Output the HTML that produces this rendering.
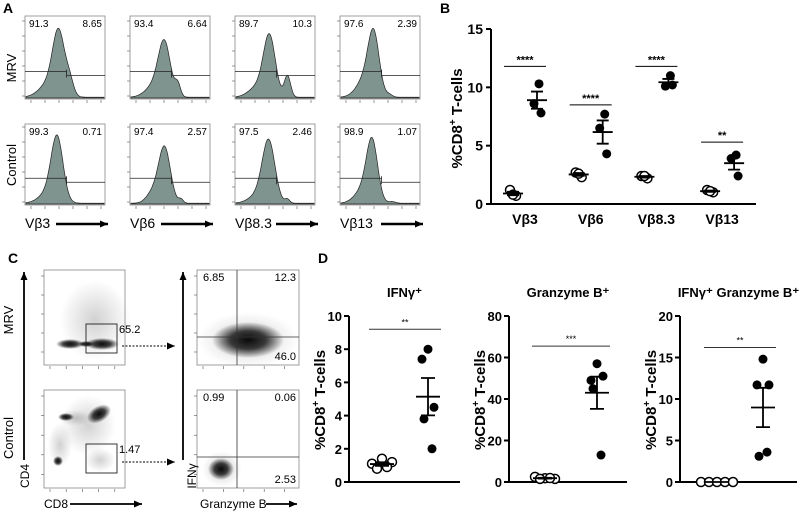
<!DOCTYPE html>
<html><head><meta charset="utf-8"><style>
html,body{margin:0;padding:0;background:#fff}
svg{display:block;font-family:"Liberation Sans",sans-serif}
</style></head><body>
<svg id="fig" width="800" height="512" viewBox="0 0 800 512" xmlns="http://www.w3.org/2000/svg">
<defs>
<marker id="ah" markerUnits="userSpaceOnUse" markerWidth="8" markerHeight="7" refX="8" refY="3.5" orient="auto"><path d="M0,0 L8,3.5 L0,7 z" fill="#000"/></marker>
<radialGradient id="dens"><stop offset="0" stop-color="#000" stop-opacity="0.95"/><stop offset="0.5" stop-color="#000" stop-opacity="0.75"/><stop offset="1" stop-color="#000" stop-opacity="0"/></radialGradient>
<radialGradient id="dens2"><stop offset="0" stop-color="#000" stop-opacity="0.18"/><stop offset="1" stop-color="#000" stop-opacity="0"/></radialGradient>
</defs>
<g id="root"></g>
</svg>
<script>
// ---------- Panel B data ----------
const bCats = ["Vβ3","Vβ6","Vβ8.3","Vβ13"];
const bOpen = [[1.2,0.7,0.8],[2.7,2.3,2.6],[2.4,2.2,2.4],[1.2,1.0,1.1]];
const bFilled = [[10.3,8.6,7.8],[7.7,6.5,4.3],[11.0,10.1,10.2],[4.2,3.9,2.4]];
const bSig = [11.8,8.5,11.8,5.3];
const bSigLabels = ["****","****","****","**"];
const bTicks = [0,5,10,15];
// ---------- Panel D data ----------
const dTitles = ["IFNγ⁺","Granzyme B⁺","IFNγ⁺ Granzyme  B⁺"];
const dMax = [10,80,20];
const dTicks = [[0,2,4,6,8,10],[0,20,40,60,80],[0,5,10,15,20]];
const dOpen = [[1.1,1.4,1.2,0.8,0.9],[2.5,1.8,1.5,1.5,1.9],[0,0,0,0,0]];
const dFilled = [[8.0,7.4,4.5,3.8,2.0],[57,49,51,45,13],[14.8,11.7,11.7,3.1,3.6]];
const dSig = [9.2,65.5,16.2];
const dSigLabels = ["**","***","**"];
// ---------- Panel A labels ----------
const aLeft = [["91.3","93.4","89.7","97.6"],["99.3","97.4","97.5","98.9"]];
const aRight = [["8.65","6.64","10.3","2.39"],["0.71","2.57","2.46","1.07"]];
const aAxis = ["Vβ3","Vβ6","Vβ8.3","Vβ13"];

const NS="http://www.w3.org/2000/svg";
const root=document.getElementById('root');
function mk(tag,attrs,parent,text){const e=document.createElementNS(NS,tag);for(const k in attrs)e.setAttribute(k,attrs[k]);if(text!==undefined)e.textContent=text;(parent||root).appendChild(e);return e;}
function txt(x,y,s,size,opts,parent){const o=Object.assign({x:x,y:y,'font-size':size,fill:'#000'},opts||{});return mk('text',o,parent,s);}

[["A",3,13],["B",440,13],["C",8,263],["D",318,263]].forEach(p=>{
  const t=txt(p[1],p[2],p[0],14,{'font-weight':'bold'});
  
  
});

// ================= Panel A =================
const aBoxX=[25,130,235,340], aBoxW=80, aRows=[[16,99],[124,205]];
const comps=[
 [[[0.42,0.075,0.72],[0.56,0.05,0.18],[0.32,0.13,0.2]],[[0.43,0.075,0.6],[0.6,0.035,0.15],[0.33,0.12,0.18]],[[0.43,0.075,0.72],[0.66,0.04,0.27],[0.3,0.12,0.15]],[[0.42,0.07,0.7],[0.32,0.11,0.25],[0.62,0.04,0.03]]],
 [[[0.40,0.075,0.78],[0.3,0.12,0.15]],[[0.43,0.075,0.72],[0.28,0.08,0.14],[0.64,0.03,0.05]],[[0.42,0.08,0.76],[0.3,0.12,0.12],[0.66,0.03,0.05]],[[0.40,0.07,0.72],[0.3,0.11,0.2],[0.66,0.04,0.02]]]
];
const gateX=[0.52,0.52,0.52,0.52];
const arrowStart=[31,31,41,41];
for(let r=0;r<2;r++){
  const [y0,y1]=aRows[r];
  for(let c=0;c<4;c++){
    const x0=aBoxX[c], g=mk('g',{});
    
    
    mk('rect',{x:x0,y:y0,width:aBoxW,height:y1-y0,fill:'none',stroke:'#888','stroke-width':0.8},g);
    let d='M'+(x0+1)+','+(y1-1);
    for(let i=0;i<=100;i++){
      const f=i/100;let h=0.01;
      comps[r][c].forEach(k=>{h+=k[2]*Math.exp(-0.5*Math.pow((f-k[0])/k[1],2));});
      d+=' L'+(x0+1+f*(aBoxW-2)).toFixed(1)+','+(y1-1-h*(y1-y0-4)).toFixed(1);
    }
    d+=' L'+(x0+aBoxW-1)+','+(y1-1)+' Z';
    mk('path',{d:d,fill:'#7f938f',stroke:'#222','stroke-width':0.7},g);
    const gx=x0+gateX[c]*aBoxW, ly=y0+(y1-y0)*0.67;
    mk('path',{d:`M${x0},${ly} H${gx} M${gx},${ly-2} V${ly+6} M${gx},${ly+4} H${x0+aBoxW}`,stroke:'#222','stroke-width':0.8,fill:'none'},g);
    txt(x0+4,y0+11,aLeft[r][c],10,{},g);
    txt(x0+aBoxW-3,y0+11,aRight[r][c],10,{'text-anchor':'end'},g);
    for(let t=0;t<6;t++){mk('line',{x1:x0+6+t*14,x2:x0+6+t*14,y1:y1+1,y2:y1+4,stroke:'#555','stroke-width':0.6},g);}
    for(let t=0;t<6;t++){mk('line',{x1:x0-3,x2:x0,y1:y1-3-t*15,y2:y1-3-t*15,stroke:'#555','stroke-width':0.6},g);}
    if(r===1){
      txt(x0,228,aAxis[c],14,{},g);
      mk('line',{x1:x0+arrowStart[c],x2:x0+aBoxW+3,y1:224,y2:224,stroke:'#000','stroke-width':2.5,'marker-end':'url(#ah)'},g);
    }
  }
}
let t1=txt(0,0,'MRV',13,{transform:'translate(16,68) rotate(-90)','text-anchor':'middle'});
let t2=txt(0,0,'Control',13,{transform:'translate(16,165) rotate(-90)','text-anchor':'middle'});

// ================= Panel B =================
(function(){
  const X0=491,X1=756,Y0=204,Y1=29,max=15;
  const y=v=>Y0-(v/max)*(Y0-Y1);
  const centers=bCats.map((_,i)=>525+i*65.7);
  const g=mk('g',{});
  mk('line',{x1:X0,x2:X0,y1:Y1,y2:Y0,stroke:'#000','stroke-width':2},g);
  mk('line',{x1:X0,x2:X1,y1:Y0,y2:Y0,stroke:'#000','stroke-width':2},g);
  bTicks.forEach(v=>{mk('line',{x1:X0-5,x2:X0,y1:y(v),y2:y(v),stroke:'#000','stroke-width':2},g);
    const t=txt(X0-8,y(v)+5,String(v),14,{'text-anchor':'end','font-weight':'bold'},g);});
  const yt=txt(0,0,'',15,{transform:`translate(462,${(Y0+Y1)/2+2}) rotate(-90)`,'text-anchor':'middle','font-weight':'bold'},g);
  
  yt.innerHTML='%CD8<tspan dy="-6" font-size="10">+</tspan><tspan dy="6"> T-cells</tspan>';
  const ox=[-3,3,0], fx=[2,-3,4];
  bCats.forEach((c,i)=>{
    const cx=centers[i];
    const lab=txt(cx,224,c,14,{'text-anchor':'middle','font-weight':'bold'},g);
    const o=bOpen[i], f=bFilled[i];
    const mo=o.reduce((a,b)=>a+b)/o.length, mf=f.reduce((a,b)=>a+b)/f.length;
    const sd=a=>{const m=a.reduce((p,q)=>p+q)/a.length;return Math.sqrt(a.reduce((p,q)=>p+(q-m)*(q-m),0)/(a.length-1))/Math.sqrt(a.length);};
    const xo=cx-12, xf=cx+12;
    o.forEach((v,k)=>{const p=mk('circle',{cx:xo+ox[k],cy:y(v),r:4.5,fill:'#fff',stroke:'#000','stroke-width':1.5},g);});
    f.forEach((v,k)=>{const p=mk('circle',{cx:xf+fx[k],cy:y(v),r:4.5,fill:'#000'},g);});
    [[xo,mo,sd(o)],[xf,mf,sd(f)]].forEach(e=>{
      mk('path',{d:`M${e[0]-10},${y(e[1])} H${e[0]+10} M${e[0]},${y(e[1]+e[2])} V${y(e[1]-e[2])} M${e[0]-6},${y(e[1]+e[2])} H${e[0]+6} M${e[0]-6},${y(e[1]-e[2])} H${e[0]+6}`,stroke:'#000','stroke-width':1.8,fill:'none'},g);
    });
    const sl=mk('line',{x1:cx-21,x2:cx+21,y1:y(bSig[i]),y2:y(bSig[i]),stroke:'#000','stroke-width':1},g);
    txt(cx,y(bSig[i])-3,bSigLabels[i],11,{'text-anchor':'middle','font-weight':'bold'},g);
  });
})();

// ================= Panel C =================
(function(){
  const boxes=[[44,270,81,95,'cd4-cd8-mrv'],[197,270,102,95,'ifng-gzmb-mrv'],[44,390,81,98,'cd4-cd8-control'],[197,390,102,98,'ifng-gzmb-control']];
  const bl=(cx,cy,rx,ry,id,rot)=>mk('ellipse',{cx:cx,cy:cy,rx:rx,ry:ry,fill:'url(#'+id+')',transform:rot?`rotate(${rot} ${cx} ${cy})`:''});
  bl(95,320,35,40,'dens2');
  bl(70,344,14,5,'dens');bl(102,344,17,6,'dens');bl(86,344,8,3,'dens');
  bl(248,340,50,28,'dens2');bl(248,340,36,18,'dens');
  bl(75,418,16,8,'dens2');bl(88,425,28,30,'dens2');bl(99,414,13,8,'dens',-30);bl(66,417,8,4,'dens');bl(58,461,5,5,'dens');bl(60,445,12,22,'dens2');bl(100,460,15,12,'dens2');
  bl(222,469,20,18,'dens2');bl(221,469,13,11,'dens');
  boxes.forEach(b=>{
    const g=mk('g',{});
    mk('rect',{x:b[0],y:b[1],width:b[2],height:b[3],fill:'none',stroke:'#888','stroke-width':0.8},g);
    for(let t=0;t<5;t++){mk('line',{x1:b[0]+6+t*b[2]/5,x2:b[0]+6+t*b[2]/5,y1:b[1]+b[3]+1,y2:b[1]+b[3]+4,stroke:'#555','stroke-width':0.6},g);
      mk('line',{x1:b[0]-3,x2:b[0],y1:b[1]+6+t*b[3]/5,y2:b[1]+6+t*b[3]/5,stroke:'#555','stroke-width':0.6},g);}
  });
  [[86,324,31,29,'65.2',346],[86,444,31,29,'1.47',462]].forEach((q,i)=>{
    const r=mk('rect',{x:q[0],y:q[1],width:q[2],height:q[3],fill:'none',stroke:'#222','stroke-width':0.9});
    txt(q[0]+q[2]+2,q[1]+9,q[4],11);
    mk('line',{x1:q[0]+q[2]+5,x2:175,y1:q[5],y2:q[5],stroke:'#000','stroke-width':1,'stroke-dasharray':'2,1.5','marker-end':'url(#ah)'});
  });
  [[337,'6.85','12.3','46.0'],[457,'0.99','0.06','2.53']].forEach((q,i)=>{
    const top=i?390:270,bot=i?488:365;
    mk('path',{d:`M237,${top} V${bot} M197,${q[0]} H299`,stroke:'#333','stroke-width':0.8,fill:'none'});
    txt(203,top+11,q[1],11);txt(296,top+11,q[2],11,{'text-anchor':'end'});txt(296,bot-5,q[3],11,{'text-anchor':'end'});
  });
  mk('line',{x1:24,x2:24,y1:460,y2:272,stroke:'#000','stroke-width':1.8,'marker-end':'url(#ah)'});
  mk('line',{x1:183,x2:183,y1:460,y2:272,stroke:'#000','stroke-width':1.8,'marker-end':'url(#ah)'});
  txt(0,0,'MRV',13,{transform:'translate(13,320) rotate(-90)','text-anchor':'middle'});
  txt(0,0,'Control',13,{transform:'translate(13,438) rotate(-90)','text-anchor':'middle'});
  txt(0,0,'CD4',12,{transform:'translate(29,476) rotate(-90)','text-anchor':'middle'});
  txt(0,0,'IFNγ',12,{transform:'translate(196,476) rotate(-90)','text-anchor':'middle'});
  txt(44,508,'CD8',12);mk('line',{x1:70,x2:142,y1:504,y2:504,stroke:'#000','stroke-width':1.8,'marker-end':'url(#ah)'});
  txt(200,508,'Granzyme B',12);mk('line',{x1:266,x2:297,y1:504,y2:504,stroke:'#000','stroke-width':1.8,'marker-end':'url(#ah)'});
})();

// ================= Panel D =================
(function(){
  const axX=[349,509,680], axEnd=[460,627,797], oC=[382,545,717], fC=[428,597,763];
  const Y0=482,Y1=316;
  const jo=[-10,0,10,-5,5], jf=[0,0,0,-4,4];
  dTitles.forEach((title,i)=>{
    const g=mk('g',{});
    const y=v=>Y0-(v/dMax[i])*(Y0-Y1);
    mk('line',{x1:axX[i],x2:axX[i],y1:Y1,y2:Y0,stroke:'#000','stroke-width':2},g);
    mk('line',{x1:axX[i],x2:axEnd[i],y1:Y0,y2:Y0,stroke:'#000','stroke-width':2},g);
    dTicks[i].forEach(v=>{mk('line',{x1:axX[i]-5,x2:axX[i],y1:y(v),y2:y(v),stroke:'#000','stroke-width':2},g);
      const t=txt(axX[i]-7,y(v)+5,String(v),13,{'text-anchor':'end','font-weight':'bold'},g);});
    const tt=txt((axX[i]+axEnd[i])/2,297,title,13,{'text-anchor':'middle','font-weight':'bold'},g);
    const yt=txt(0,0,'',15,{transform:`translate(${axX[i]-24},400) rotate(-90)`,'text-anchor':'middle','font-weight':'bold'},g);
    
    yt.innerHTML='%CD8<tspan dy="-6" font-size="10">+</tspan><tspan dy="6"> T-cells</tspan>';
    const o=dOpen[i],f=dFilled[i];
    const mean=a=>a.reduce((p,q)=>p+q)/a.length;
    const sem=a=>{const m=mean(a);return Math.sqrt(a.reduce((p,q)=>p+(q-m)*(q-m),0)/(a.length-1))/Math.sqrt(a.length);};
    o.forEach((v,k)=>{const xs=i===2?oC[i]-16+k*8:oC[i]+jo[k];const p=mk('circle',{cx:xs,cy:y(v),r:4.5,fill:'#fff',stroke:'#000','stroke-width':1.5},g);});
    f.forEach((v,k)=>{const p=mk('circle',{cx:fC[i]+jf[k]+(k===1?-6:k===2?6:0),cy:y(v),r:4.5,fill:'#000'},g);});
    [[oC[i],mean(o),sem(o)],[fC[i],mean(f),sem(f)]].forEach(e=>{
      mk('path',{d:`M${e[0]-12},${y(e[1])} H${e[0]+12} M${e[0]},${y(e[1]+e[2])} V${y(e[1]-e[2])} M${e[0]-7},${y(e[1]+e[2])} H${e[0]+7} M${e[0]-7},${y(e[1]-e[2])} H${e[0]+7}`,stroke:'#000','stroke-width':1.8,fill:'none'},g);
    });
    const sl=mk('line',{x1:oC[i]-13,x2:fC[i]+13,y1:y(dSig[i]),y2:y(dSig[i]),stroke:'#333','stroke-width':1},g);
    txt((oC[i]+fC[i])/2,y(dSig[i])-4,dSigLabels[i],9,{'text-anchor':'middle'},g);
  });
})();
</script>
</body></html>
